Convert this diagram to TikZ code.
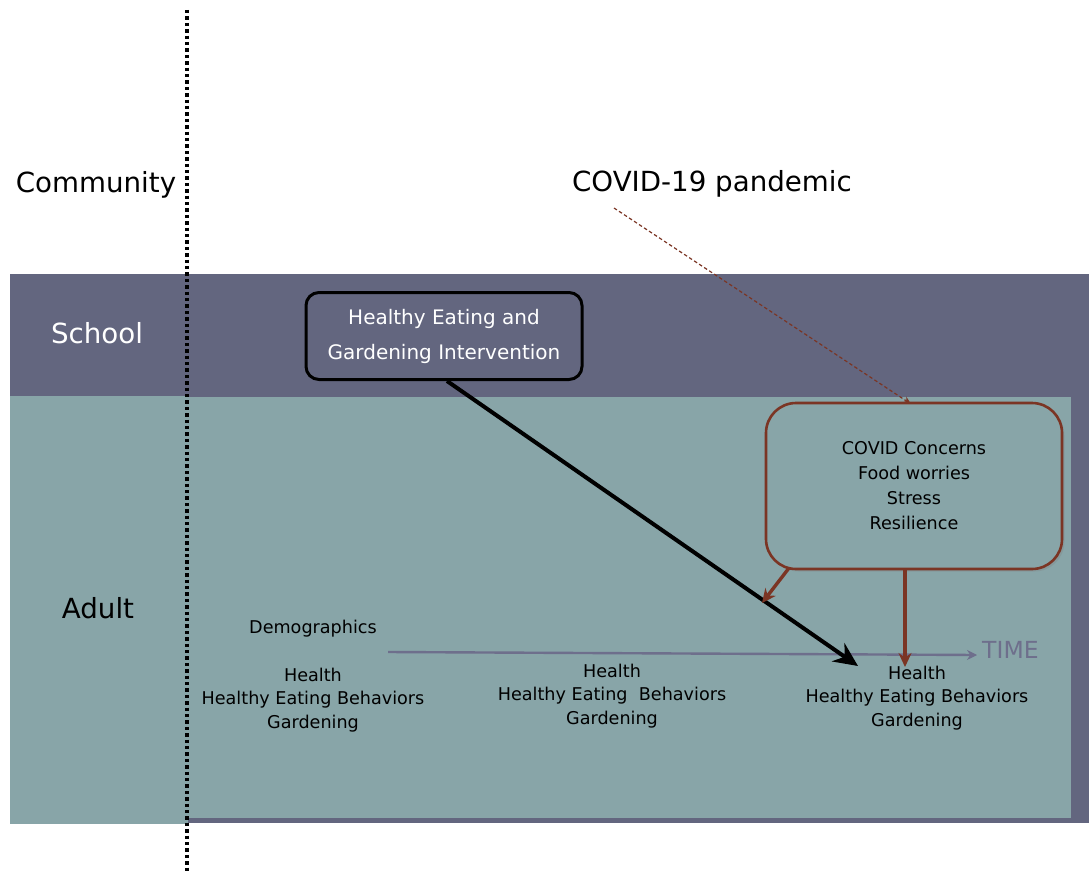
\documentclass[tikz,border=0pt]{standalone}
\usepackage{fontspec}
\setmainfont{DejaVu Sans}
\usetikzlibrary{arrows.meta,shadows}
\definecolor{schoolpurple}{HTML}{63667F}
\definecolor{adultteal}{HTML}{88A5A8}
\definecolor{covidbrown}{HTML}{7B3524}
\definecolor{timegray}{HTML}{6E6F8C}
\tikzset{
  biglabel/.style={font=\fontsize{27.7}{32}\selectfont, inner sep=0pt},
  small/.style={font=\fontsize{17.6}{23.5}\selectfont, align=center, inner sep=0pt},
  outcome/.style={small},
  interv/.style={draw=black, line width=3pt, rounded corners=13pt, fill=schoolpurple,
    text=white, font=\fontsize{20}{35}\selectfont, align=center,
    minimum width=276pt, minimum height=87pt, inner sep=0pt},
  concern/.style={draw=covidbrown, line width=2.6pt, rounded corners=30pt, fill=adultteal,
    font=\fontsize{17.6}{25}\selectfont, align=center,
    minimum width=296pt, minimum height=166pt, inner sep=0pt,
    drop shadow={shadow xshift=2.5pt, shadow yshift=-2.5pt, opacity=0.3}},
  mainarrow/.style={line width=4pt, -{Stealth[length=24pt,width=22pt]}},
  brownarrow/.style={draw=covidbrown, line width=3.4pt, -{Stealth[length=14pt,width=13pt]}},
}
\begin{document}
\begin{tikzpicture}[x=1pt,y=-1pt]
\useasboundingbox (0,0) rectangle (1089,872);

% bands
\fill[schoolpurple] (10,274) rectangle (188,396);
\fill[adultteal] (10,396) rectangle (188,824);
\fill[schoolpurple] (188,274) rectangle (1089,823);
\fill[adultteal] (188,397) rectangle (1071,818);

% community boundary
\draw[line width=3.4pt, dash pattern=on 3.4pt off 3pt] (187,10) -- (187,872);

% row labels
\node[biglabel] (community) at (96,185) {Community};
\node[biglabel, text=white] (school) at (97,333) {School};
\node[biglabel] (adult) at (98,608) {Adult};
\node[biglabel] (pandemic) at (712,184) {COVID-19 pandemic};

% boxes
\node[interv] (interv) at (444,336) {Healthy Eating and\\Gardening Intervention};
\node[concern] (concern) at (914,486) {COVID Concerns\\Food worries\\Stress\\Resilience};

% time axis
\coordinate (tstart) at (388,652);
\coordinate (tend) at (977,655);
\draw[timegray, line width=2.4pt, -{Stealth[length=10pt,width=10pt]}] (tstart) -- (tend);
\node[anchor=west, text=timegray, font=\fontsize{23.5}{25}\selectfont, inner sep=0pt] (time) at (982,650) {TIME};

% measurement waves
\node[small] (demo) at (313,629) {Demographics};
\node[outcome] (w1) at (313,700) {Health\\Healthy Eating Behaviors\\Gardening};
\node[outcome] (w2) at (612,696) {Health\\Healthy Eating\ \ Behaviors\\Gardening};
\node[outcome] (w3) at (917,698) {Health\\Healthy Eating Behaviors\\Gardening};

% connectors
\coordinate (ibottom) at (447,381);
\coordinate (mainend) at (858,666);
\draw[mainarrow] (ibottom) -- (mainend);

\coordinate (cleft) at (789,568);
\coordinate (onmain) at (762,603);
\draw[brownarrow] (cleft) -- (onmain);
\coordinate (cmid) at (905,570);
\coordinate (w3top) at (905,667);
\draw[brownarrow] (cmid) -- (w3top);

\coordinate (pstart) at (614,208);
\coordinate (ctop) at (911,404);
\draw[covidbrown, line width=1.2pt, dash pattern=on 3.5pt off 2.5pt, -{Stealth[length=8pt,width=7pt]}] (pstart) -- (ctop);
\end{tikzpicture}
\end{document}
